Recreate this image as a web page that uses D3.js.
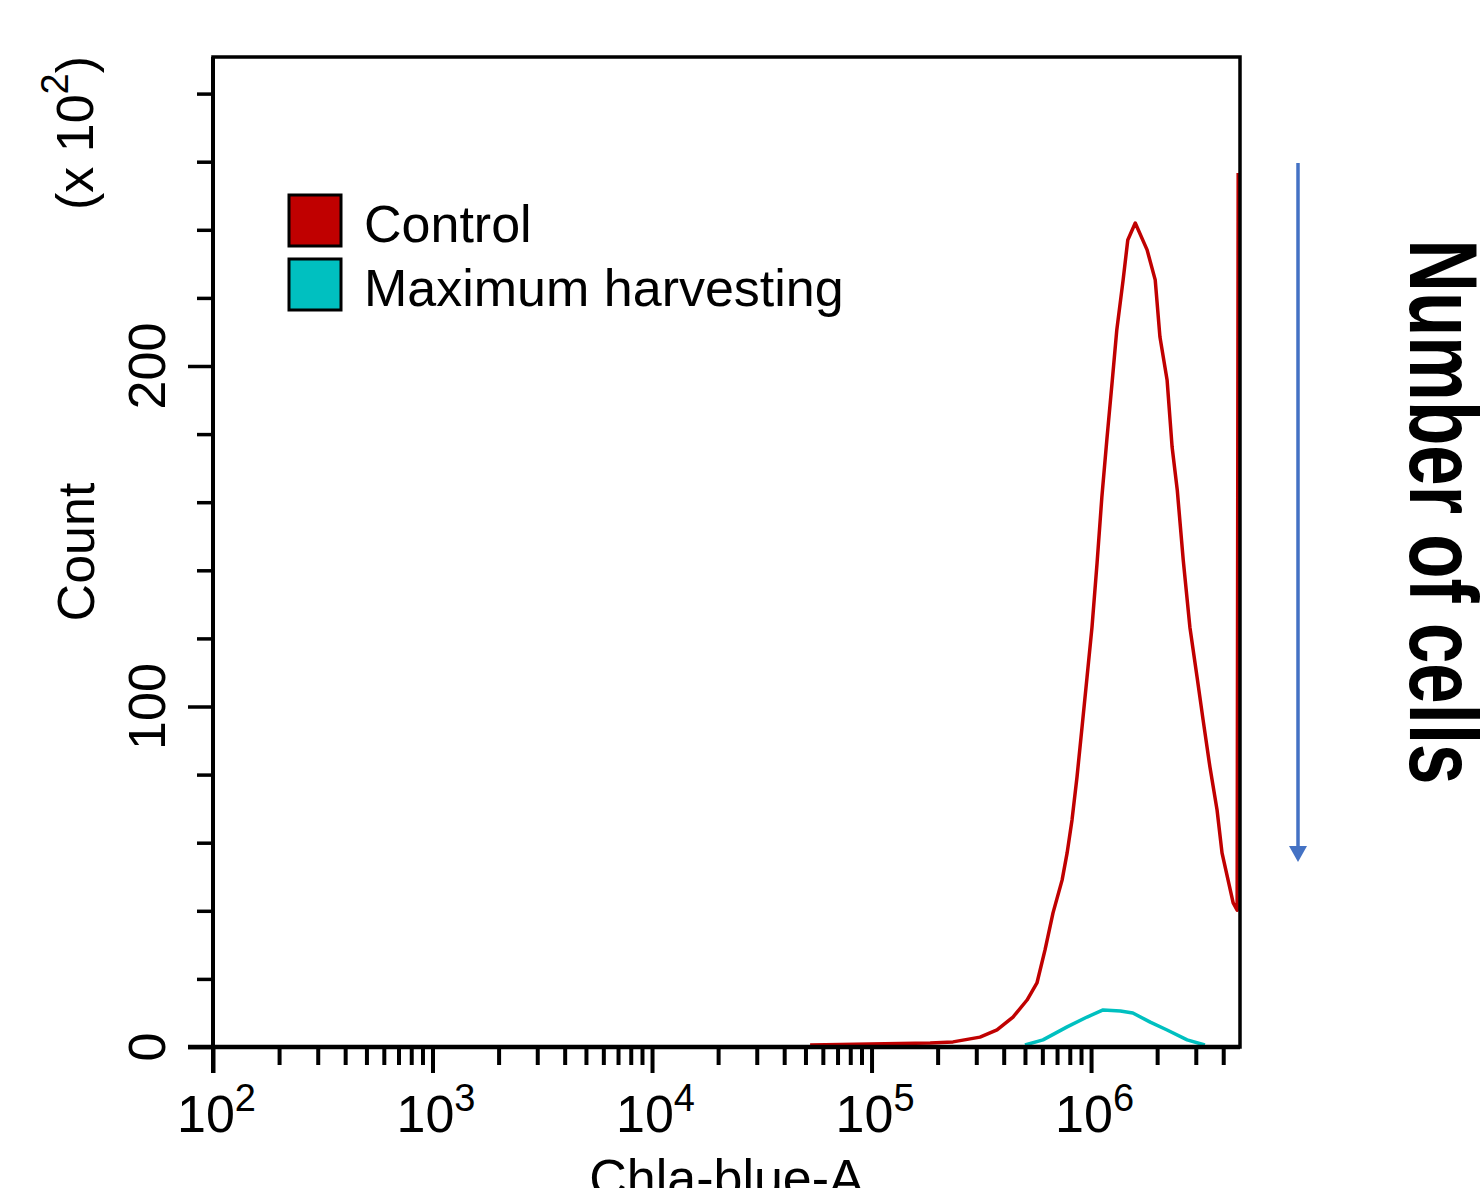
<!DOCTYPE html>
<html lang="en">
<head>
<meta charset="UTF-8">
<title>Chla-blue-A histogram</title>
<style>
  body { margin: 0; background: #fff; }
  text { font-family: "Liberation Sans", Arial, sans-serif; }
</style>
</head>
<body>
<script src="https://cdn.jsdelivr.net/npm/d3@7"></script>
<script>
// fluorescence (Chla-blue-A) and count (x 10^2)
const controlX = [5.25e4, 9.8e4, 1.85e5, 2.35e5, 3.12e5, 3.73e5, 4.41e5, 5.11e5, 5.67e5, 6.17e5,
  6.71e5, 7.38e5, 7.78e5, 8.19e5, 8.63e5, 9.10e5, 9.59e5, 1.01e6, 1.065e6, 1.12e6,
  1.18e6, 1.25e6, 1.31e6, 1.40e6, 1.47e6, 1.59e6, 1.80e6, 1.96e6, 2.06e6, 2.22e6,
  2.34e6, 2.47e6, 2.63e6, 2.82e6, 3.04e6, 3.24e6, 3.48e6, 3.75e6, 3.95e6, 4.21e6,
  4.44e6, 4.63e6, 4.68e6];
const controlCount = [0.6, 0.9, 1.2, 1.5, 2.9, 5.0, 8.8, 13.8, 18.8, 28.5,
  39.4, 49.0, 57.0, 66.7, 79.3, 94.0, 108.7, 123.3, 142.1, 161.5,
  178.3, 195.9, 210.6, 225.3, 237.0, 242.0, 234.1, 225.3, 208.5, 195.9,
  176.2, 163.6, 143.0, 123.3, 108.7, 96.0, 82.2, 69.6, 57.0, 49.0,
  42.3, 40.2, 256.7];
const harvestX = [5.0e5, 6.04e5, 7.78e5, 9.59e5, 1.135e6, 1.36e6, 1.55e6, 1.86e6, 2.22e6, 2.74e6, 3.3e6];
const harvestCount = [0.6, 2.1, 5.9, 8.8, 10.9, 10.6, 10.0, 7.3, 5.0, 2.1, 0.6];

const seriesNames = ["Control", "Maximum harvesting"];
const seriesColors = ["#c00000", "#00c0c0"];
const xDecades = [2, 3, 4, 5, 6];
const yLabels = [0, 100, 200];

const W = 1482, H = 1188;
const pLeft = 213, pRight = 1240, pTop = 57, pBottom = 1047;

const svg = d3.select("body").append("svg")
  .attr("width", W).attr("height", H);
svg.append("rect").attr("width", W).attr("height", H).attr("fill", "#fff");

const x = d3.scaleLog().domain([100, 4.77e6]).range([pLeft, pRight]);
const y = d3.scaleLinear().domain([0, (pBottom - pTop) / 3.405]).range([pBottom, pTop]);

// curves
const line = d3.line().x(d => x(d[0])).y(d => y(d[1]));
const series = [d3.zip(controlX, controlCount), d3.zip(harvestX, harvestCount)];
svg.selectAll("path.curve")
  .data(series)
  .join("path")
    .attr("class", "curve")
    .attr("fill", "none")
    .attr("stroke", (d, i) => seriesColors[i])
    .attr("stroke-width", 3.5)
    .attr("stroke-linejoin", "round")
    .attr("d", line);

// frame
svg.append("rect")
  .attr("x", pLeft).attr("y", pTop)
  .attr("width", pRight - pLeft).attr("height", pBottom - pTop)
  .attr("fill", "none").attr("stroke", "#000").attr("stroke-width", 3.5);

// x axis: minor ticks 2..9 in every decade, majors at the decades
const xTicks = [];
for (let e = 2; e <= 6; e++) {
  for (let m = 1; m <= 9; m++) {
    const v = m * Math.pow(10, e);
    if (v <= x.domain()[1]) xTicks.push(v);
  }
}
const gx = svg.append("g")
  .attr("transform", `translate(0,${pBottom})`)
  .call(d3.axisBottom(x).tickValues(xTicks).tickSize(18).tickFormat(""));
gx.select(".domain").remove();
gx.selectAll(".tick line")
  .attr("stroke-width", 4)
  .attr("y2", d => Math.abs(Math.log10(d) % 1) < 1e-9 ? 26 : 18);
svg.append("line")
  .attr("x1", 188).attr("x2", pRight)
  .attr("y1", pBottom).attr("y2", pBottom)
  .attr("stroke", "#000").attr("stroke-width", 4.5);

svg.selectAll("text.xlab")
  .data(xDecades)
  .join("text")
    .attr("class", "xlab")
    .attr("x", d => x(Math.pow(10, d)) - 36)
    .attr("y", 1132)
    .attr("font-size", 52)
    .call(t => t.append("tspan").text("10"))
    .call(t => t.append("tspan").attr("font-size", 38).attr("dy", -21).text(d => d));

// y axis
const gy = svg.append("g")
  .attr("transform", `translate(${pLeft},0)`)
  .call(d3.axisLeft(y).tickValues(d3.range(0, 281, 20)).tickSize(16).tickFormat(""));
gy.select(".domain").remove();
gy.selectAll(".tick line")
  .attr("stroke-width", 3.5)
  .attr("x2", d => d % 100 === 0 ? -25 : -16);
svg.append("line")
  .attr("x1", pLeft).attr("x2", pLeft)
  .attr("y1", pTop).attr("y2", pBottom + 26)
  .attr("stroke", "#000").attr("stroke-width", 4);

svg.selectAll("text.ylab")
  .data(yLabels)
  .join("text")
    .attr("class", "ylab")
    .attr("transform", d => `translate(165,${y(d)}) rotate(-90)`)
    .attr("text-anchor", "middle")
    .attr("font-size", 52)
    .text(d => d);

// axis titles
svg.append("text")
  .attr("transform", "translate(94,552) rotate(-90)")
  .attr("text-anchor", "middle")
  .attr("font-size", 52)
  .text("Count");

const unit = svg.append("text")
  .attr("transform", "translate(93,133) rotate(-90)")
  .attr("text-anchor", "middle")
  .attr("font-size", 52);
unit.append("tspan").text("(x 10");
unit.append("tspan").attr("font-size", 38).attr("dy", -25).text("2");
unit.append("tspan").attr("dy", 25).text(")");

svg.append("text")
  .attr("x", (pLeft + pRight) / 2)
  .attr("y", 1196)
  .attr("text-anchor", "middle")
  .attr("font-size", 52)
  .text("Chla-blue-A");

// legend
const legend = svg.append("g").attr("transform", "translate(289,195)");
const item = legend.selectAll("g")
  .data(seriesNames)
  .join("g")
    .attr("transform", (d, i) => `translate(0,${i * 64})`);
item.append("rect")
  .attr("width", 52).attr("height", 51)
  .attr("fill", (d, i) => seriesColors[i])
  .attr("stroke", "#000").attr("stroke-width", 3);
item.append("text")
  .attr("x", 75).attr("y", 47)
  .attr("font-size", 52)
  .text(d => d);

// annotation on the right
const arrowX = 1298;
svg.append("line")
  .attr("x1", arrowX).attr("x2", arrowX)
  .attr("y1", 163).attr("y2", 848)
  .attr("stroke", "#4472c4").attr("stroke-width", 3.5);
svg.append("path")
  .attr("d", `M${arrowX - 9},846 L${arrowX + 9},846 L${arrowX},862 Z`)
  .attr("fill", "#4472c4");

svg.append("text")
  .attr("transform", "translate(1410,512) rotate(90)")
  .attr("text-anchor", "middle")
  .attr("font-family", "'Liberation Sans Narrow', 'DejaVu Sans Condensed', 'Liberation Sans', sans-serif")
  .attr("font-weight", "bold")
  .attr("font-size", 96)
  .attr("textLength", 545)
  .attr("lengthAdjust", "spacingAndGlyphs")
  .text("Number of cells");
</script>
</body>
</html>
